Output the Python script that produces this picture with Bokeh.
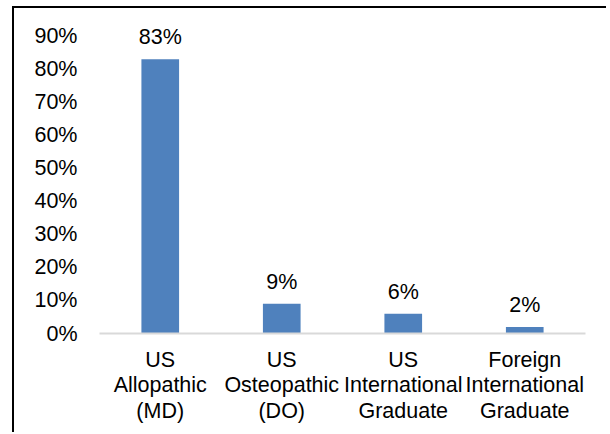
from bokeh.plotting import figure
from bokeh.models import ColumnDataSource, FactorRange, Range1d, NumeralTickFormatter, FixedTicker
from bokeh.core.properties import value
from bokeh.embed import file_html
from bokeh.resources import INLINE

categories = ["US\nAllopathic\n(MD)", "US\nOsteopathic\n(DO)", "US\nInternational\nGraduate", "Foreign\nInternational\nGraduate"]
shares = [0.83, 0.09, 0.06, 0.02]
y_ticks = [0.0, 0.1, 0.2, 0.3, 0.4, 0.5, 0.6, 0.7, 0.8, 0.9]

labels = [f"{round(v * 100)}%" for v in shares]
src = ColumnDataSource(dict(cat=categories, val=shares, lab=labels))

FONT = "Liberation Sans"
FS = "21.5px"
p = figure(width=594, height=426, output_backend="svg", toolbar_location=None,
           x_range=FactorRange(factors=categories), y_range=Range1d(0, 0.959),
           min_border_left=85, min_border_right=23, min_border_top=8, min_border_bottom=101)
p.styles = {"border-left": "2px solid black", "border-top": "2px solid black",
            "margin-left": "12px", "margin-top": "6px"}

p.vbar(x="cat", top="val", width=0.31, source=src, fill_color="#4f81bd", line_color=None)
p.text(x="cat", y="val", text="lab", source=src, text_align="center", text_baseline="alphabetic",
       y_offset=-22, text_font=value(FONT), text_font_size=FS, text_color="#000000")

p.xgrid.visible = False
p.ygrid.visible = False
p.outline_line_color = None
p.background_fill_color = "white"
p.border_fill_color = "white"

p.yaxis.ticker = FixedTicker(ticks=y_ticks)
p.yaxis.formatter = NumeralTickFormatter(format="0%")
p.yaxis.axis_line_color = None
p.yaxis.major_tick_line_color = None
p.yaxis.minor_tick_line_color = None
p.yaxis.major_label_standoff = 16
p.yaxis.major_label_text_font = FONT
p.yaxis.major_label_text_font_size = FS
p.yaxis.major_label_text_color = "#000000"

p.xaxis.axis_line_color = "#d9d9d9"
p.xaxis.axis_line_width = 2
p.xaxis.major_tick_line_color = None
p.xaxis.minor_tick_line_color = None
p.xaxis.major_label_standoff = 8
p.xaxis.major_label_text_font = FONT
p.xaxis.major_label_text_font_size = FS
p.xaxis.major_label_text_color = "#000000"
p.xaxis.major_label_text_line_height = 1.07

open("out.html", "w").write(file_html(p, INLINE))
